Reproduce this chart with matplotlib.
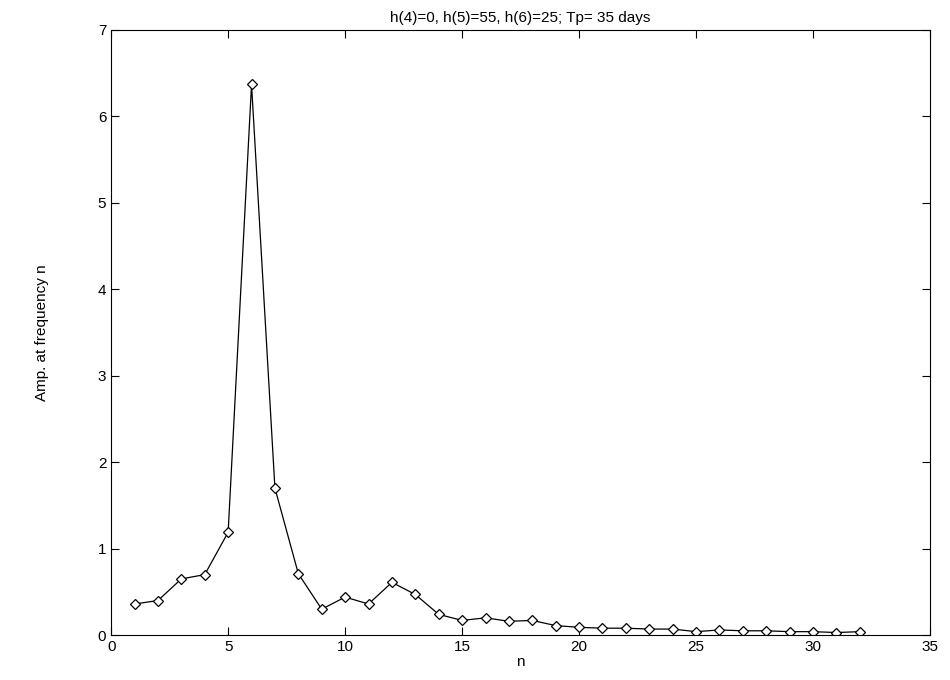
import matplotlib
matplotlib.use('Agg')
import matplotlib.pyplot as plt

# Amplitude at each frequency n
n_values = list(range(1, 33))
amplitudes = [0.36, 0.40, 0.65, 0.70, 1.19, 6.37, 1.70, 0.71, 0.30, 0.44,
              0.36, 0.61, 0.47, 0.24, 0.17, 0.20, 0.16, 0.17, 0.11, 0.09,
              0.08, 0.08, 0.07, 0.07, 0.04, 0.06, 0.05, 0.05, 0.04, 0.04,
              0.03, 0.04]

TITLE = 'h(4)=0, h(5)=55, h(6)=25; Tp= 35 days'
x_ticks = [0, 5, 10, 15, 20, 25, 30, 35]
y_ticks = [0, 1, 2, 3, 4, 5, 6, 7]


def main():
    plt.rcParams['font.family'] = ['Liberation Sans', 'DejaVu Sans']
    fig = plt.figure(figsize=(9.5, 6.8), dpi=100)
    ax = fig.add_axes([0.117, 0.066, 0.862, 0.890])

    ax.plot(n_values, amplitudes, color='black', linewidth=0.9,
            marker='D', markersize=5, markerfacecolor='white',
            markeredgecolor='black', markeredgewidth=0.9)

    ax.set_xlim(0, 35)
    ax.set_ylim(0, 7)
    ax.set_xticks(x_ticks)
    ax.set_yticks(y_ticks)
    ax.tick_params(direction='in', top=True, right=True, length=6,
                   labelsize=11)

    ax.set_title(TITLE, fontsize=11, pad=6)
    ax.set_xlabel('n', fontsize=11, labelpad=1)
    ax.set_ylabel('Amp. at frequency n', fontsize=11, labelpad=35)

    fig.savefig('out.png', dpi=100)


if __name__ == '__main__':
    main()
